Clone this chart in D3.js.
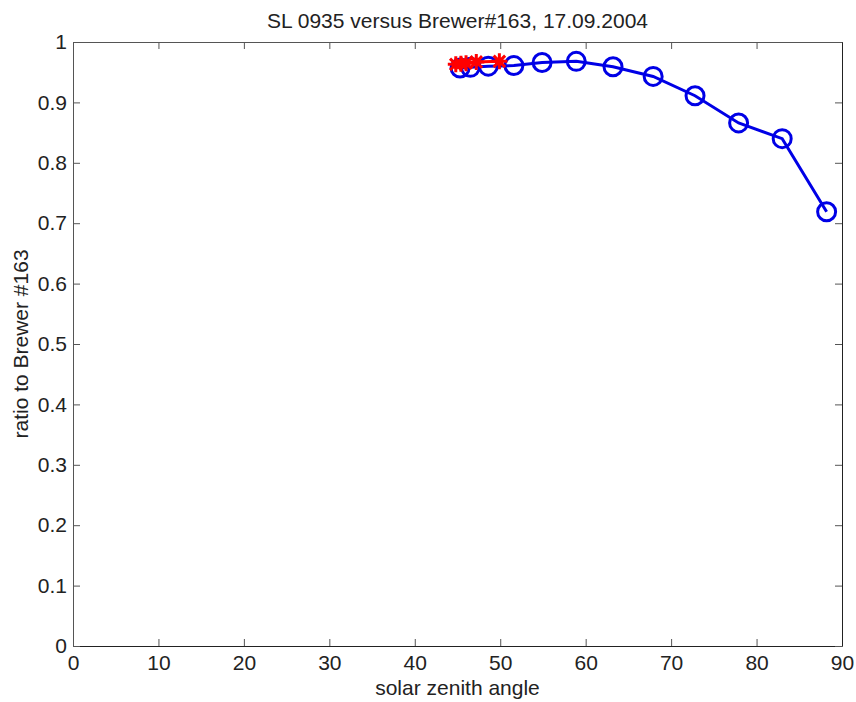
<!DOCTYPE html>
<html>
<head>
<meta charset="utf-8">
<script src="https://cdn.jsdelivr.net/npm/d3@7"></script>
<style>
  body { margin: 0; background: #fff; }
  text { font-family: "Liberation Sans", Arial, sans-serif; }
</style>
</head>
<body>
<div id="chart"></div>
<script>
// Data
var blueX   = [ 45.3, 46.5, 48.6, 51.6, 54.9, 58.9, 63.2, 67.9, 72.8, 77.9, 83.0, 88.2 ];
var blueY   = [ 0.957, 0.958, 0.960, 0.961, 0.966, 0.968, 0.959, 0.943, 0.911, 0.866, 0.840, 0.719 ];
var redX    = [ 44.8, 45.4, 46.0, 47.2, 49.9 ];
var redY    = [ 0.963, 0.964, 0.965, 0.967, 0.968 ];
var xTicks  = [ 0, 10, 20, 30, 40, 50, 60, 70, 80, 90 ];
var yTicks  = [ 0, 0.1, 0.2, 0.3, 0.4, 0.5, 0.6, 0.7, 0.8, 0.9, 1 ];

var chart_width  = 856;
var chart_height = 702;
var m_left = 73, m_right = 842, m_top = 42, m_bottom = 646;
var fontSize = "21px";

var x = d3.scaleLinear().domain([ 0, 90 ]).range([ m_left, m_right ]);
var y = d3.scaleLinear().domain([ 0, 1 ]).range([ m_bottom, m_top ]);

var svg = d3.select("#chart")
    .append("svg")
    .attr("width", chart_width)
    .attr("height", chart_height);

// Axes (MATLAB style: inward ticks on all four sides)
var tickLen = 7;
var axisColor = "#555";

svg.append("g")
    .attr("transform", "translate(0," + m_bottom + ")")
    .call(d3.axisBottom(x).tickValues(xTicks).tickSizeInner(-tickLen).tickSizeOuter(0).tickPadding(9))
    .call(g => g.select(".domain").attr("stroke", "#222"));

svg.append("g")
    .attr("transform", "translate(0," + m_top + ")")
    .call(d3.axisTop(x).tickValues(xTicks).tickSizeInner(-tickLen).tickSizeOuter(0).tickFormat(""))
    .call(g => g.select(".domain").attr("stroke", axisColor));

svg.append("g")
    .attr("transform", "translate(" + m_left + ",0)")
    .call(d3.axisLeft(y).tickValues(yTicks).tickSizeInner(-tickLen).tickSizeOuter(0).tickPadding(6)
        .tickFormat(d => String(+d.toFixed(1))))
    .call(g => g.select(".domain").attr("stroke", axisColor));

svg.append("g")
    .attr("transform", "translate(" + m_right + ",0)")
    .call(d3.axisRight(y).tickValues(yTicks).tickSizeInner(-tickLen).tickSizeOuter(0).tickFormat(""))
    .call(g => g.select(".domain").attr("stroke", "#222"));

svg.selectAll(".tick line").attr("stroke", axisColor);
svg.selectAll(".tick text")
    .attr("fill", "#222")
    .style("font-size", fontSize)
    .style("font-family", "\"Liberation Sans\", Arial, sans-serif");

// Titles
svg.append("text")
    .attr("x", (m_left + m_right) / 2)
    .attr("y", 28)
    .attr("text-anchor", "middle")
    .style("font-size", fontSize)
    .attr("fill", "#222")
    .text("SL 0935 versus Brewer#163, 17.09.2004");

svg.append("text")
    .attr("x", (m_left + m_right) / 2)
    .attr("y", 695)
    .attr("text-anchor", "middle")
    .style("font-size", fontSize)
    .attr("fill", "#222")
    .text("solar zenith angle");

svg.append("text")
    .attr("transform", "translate(28," + (m_top + m_bottom) / 2 + ") rotate(-90)")
    .attr("text-anchor", "middle")
    .style("font-size", fontSize)
    .attr("fill", "#222")
    .text("ratio to Brewer #163");

// Blue series
var blue = blueX.map((d, i) => [ d, blueY[i] ]);
var red  = redX.map((d, i) => [ d, redY[i] ]);
var line = d3.line().x(d => x(d[0])).y(d => y(d[1]));

svg.append("path")
    .datum(blue)
    .attr("d", line)
    .attr("fill", "none")
    .attr("stroke", "#0000e6")
    .attr("stroke-width", 3);

svg.selectAll("circle.blue")
    .data(blue)
    .enter()
    .append("circle")
    .attr("class", "blue")
    .attr("cx", d => x(d[0]))
    .attr("cy", d => y(d[1]))
    .attr("r", 9)
    .attr("fill", "none")
    .attr("stroke", "#0000e6")
    .attr("stroke-width", 3);

// Red series
svg.append("path")
    .datum(red)
    .attr("d", line)
    .attr("fill", "none")
    .attr("stroke", "#ff0000")
    .attr("stroke-width", 3);

var s = 8, sd = s * 0.72;
var starPath = "M" + (-s) + ",0L" + s + ",0M0," + (-s) + "L0," + s +
    "M" + (-sd) + "," + (-sd) + "L" + sd + "," + sd +
    "M" + (-sd) + "," + sd + "L" + sd + "," + (-sd);

svg.selectAll("path.star")
    .data(red)
    .enter()
    .append("path")
    .attr("class", "star")
    .attr("transform", d => "translate(" + x(d[0]) + "," + y(d[1]) + ")")
    .attr("d", starPath)
    .attr("fill", "none")
    .attr("stroke", "#ff0000")
    .attr("stroke-width", 3);
</script>
</body>
</html>
